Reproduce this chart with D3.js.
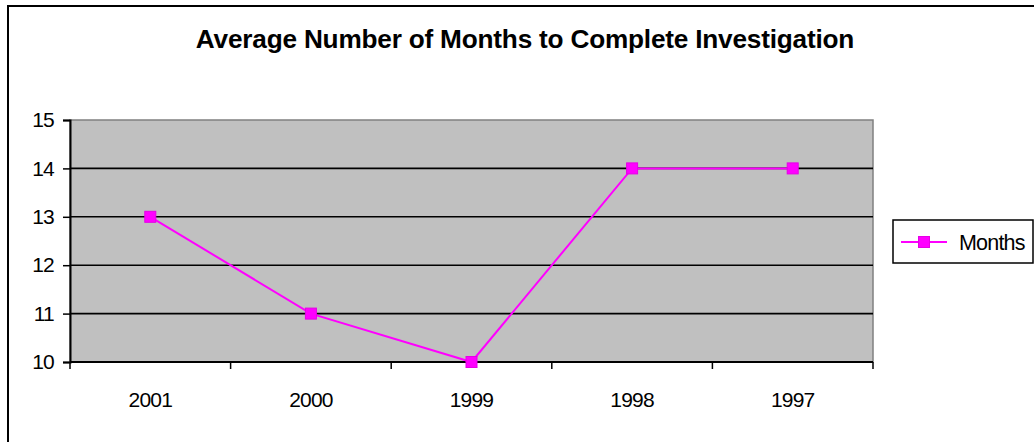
<!DOCTYPE html>
<html>
<head>
<meta charset="utf-8">
<script src="https://cdn.jsdelivr.net/npm/d3@7"></script>
<style>
  body { margin: 0; background: #fff; }
  svg { display: block; font-family: "Liberation Sans", Arial, sans-serif; }
</style>
</head>
<body>
<div id="chart"></div>
<script>
let years = ["2001", "2000", "1999", "1998", "1997"];
let months = [13, 11, 10, 14, 14];
let yTicks = [10, 11, 12, 13, 14, 15];
let seriesName = "Months";
let title = "Average Number of Months to Complete Investigation";

let W = 1034, H = 442;
let plot = { left: 70, top: 120, right: 873, bottom: 362 };

let svg = d3.select("#chart")
    .append("svg")
    .attr("width", W)
    .attr("height", H);

// outer chart border (runs off the right and bottom edge)
svg.append("rect")
    .attr("x", 8)
    .attr("y", 6)
    .attr("width", W + 20)
    .attr("height", H + 20)
    .attr("fill", "#fff")
    .attr("stroke", "#000")
    .attr("stroke-width", 2);

svg.append("text")
    .attr("x", 525)
    .attr("y", 48)
    .attr("text-anchor", "middle")
    .style("font-size", "26.2px")
    .style("font-weight", "bold")
    .style("letter-spacing", "-0.2px")
    .text(title);

let x = d3.scaleBand()
    .domain(years)
    .range([plot.left, plot.right]);

let y = d3.scaleLinear()
    .domain([10, 15])
    .range([plot.bottom, plot.top]);

// plot area
svg.append("rect")
    .attr("x", plot.left)
    .attr("y", plot.top)
    .attr("width", plot.right - plot.left)
    .attr("height", plot.bottom - plot.top)
    .attr("fill", "#c0c0c0")
    .attr("stroke", "#808080")
    .attr("stroke-width", 1.5);

// gridlines
svg.selectAll(".grid")
    .data(yTicks.filter(d => d > 10 && d < 15))
    .enter()
    .append("line")
    .attr("x1", plot.left)
    .attr("x2", plot.right)
    .attr("y1", d => y(d))
    .attr("y2", d => y(d))
    .attr("stroke", "#000")
    .attr("stroke-width", 1.6);

// y axis
let yAxis = svg.append("g")
    .attr("transform", "translate(" + plot.left + ",0)")
    .call(d3.axisLeft(y).tickValues(yTicks).tickSize(7).tickPadding(9).tickFormat(d3.format("d")));

// x axis with ticks at category boundaries
let xAxis = svg.append("g")
    .attr("transform", "translate(0," + plot.bottom + ")")
    .call(d3.axisBottom(x).tickSize(0).tickPadding(30));

xAxis.selectAll(".bound")
    .data(years.map(d => x(d)).concat([plot.right]))
    .enter()
    .append("line")
    .attr("class", "bound")
    .attr("x1", d => d)
    .attr("x2", d => d)
    .attr("y1", 0)
    .attr("y2", 7)
    .attr("stroke", "#000")
    .attr("stroke-width", 1.5);

[yAxis, xAxis].forEach(function (g) {
    g.select(".domain").attr("stroke", "#000").attr("stroke-width", 2);
    g.selectAll(".tick line").attr("stroke", "#000").attr("stroke-width", 1.5);
    g.selectAll("text")
        .style("font-family", "'Liberation Sans', Arial, sans-serif")
        .style("font-size", "21px")
        .style("letter-spacing", "-0.8px")
        .attr("fill", "#000");
});
xAxis.select(".domain").attr("d", "M" + plot.left + ",0H" + plot.right);

// series
let cx = d => x(d) + x.bandwidth() / 2;
let line = d3.line()
    .x((d, i) => cx(years[i]))
    .y(d => y(d));

svg.append("path")
    .datum(months)
    .attr("d", line)
    .attr("fill", "none")
    .attr("stroke", "#ff00ff")
    .attr("stroke-width", 2);

let ms = 11;
svg.selectAll(".marker")
    .data(months)
    .enter()
    .append("rect")
    .attr("class", "marker")
    .attr("x", (d, i) => cx(years[i]) - ms / 2)
    .attr("y", d => y(d) - ms / 2)
    .attr("width", ms)
    .attr("height", ms)
    .attr("fill", "#ff00ff")
    .attr("stroke", "#e600e6")
    .attr("stroke-width", 1);

// legend
let legend = svg.append("g").attr("transform", "translate(893,220)");
legend.append("rect")
    .attr("width", 140)
    .attr("height", 43)
    .attr("fill", "#fff")
    .attr("stroke", "#000")
    .attr("stroke-width", 1.5);
legend.append("line")
    .attr("x1", 8).attr("x2", 54)
    .attr("y1", 22).attr("y2", 22)
    .attr("stroke", "#ff00ff")
    .attr("stroke-width", 2);
legend.append("rect")
    .attr("x", 31 - ms / 2).attr("y", 22 - ms / 2)
    .attr("width", ms).attr("height", ms)
    .attr("fill", "#ff00ff")
    .attr("stroke", "#e600e6");
legend.append("text")
    .attr("x", 66)
    .attr("y", 30)
    .style("font-size", "21.5px")
    .style("letter-spacing", "-0.8px")
    .text(seriesName);
</script>
</body>
</html>
